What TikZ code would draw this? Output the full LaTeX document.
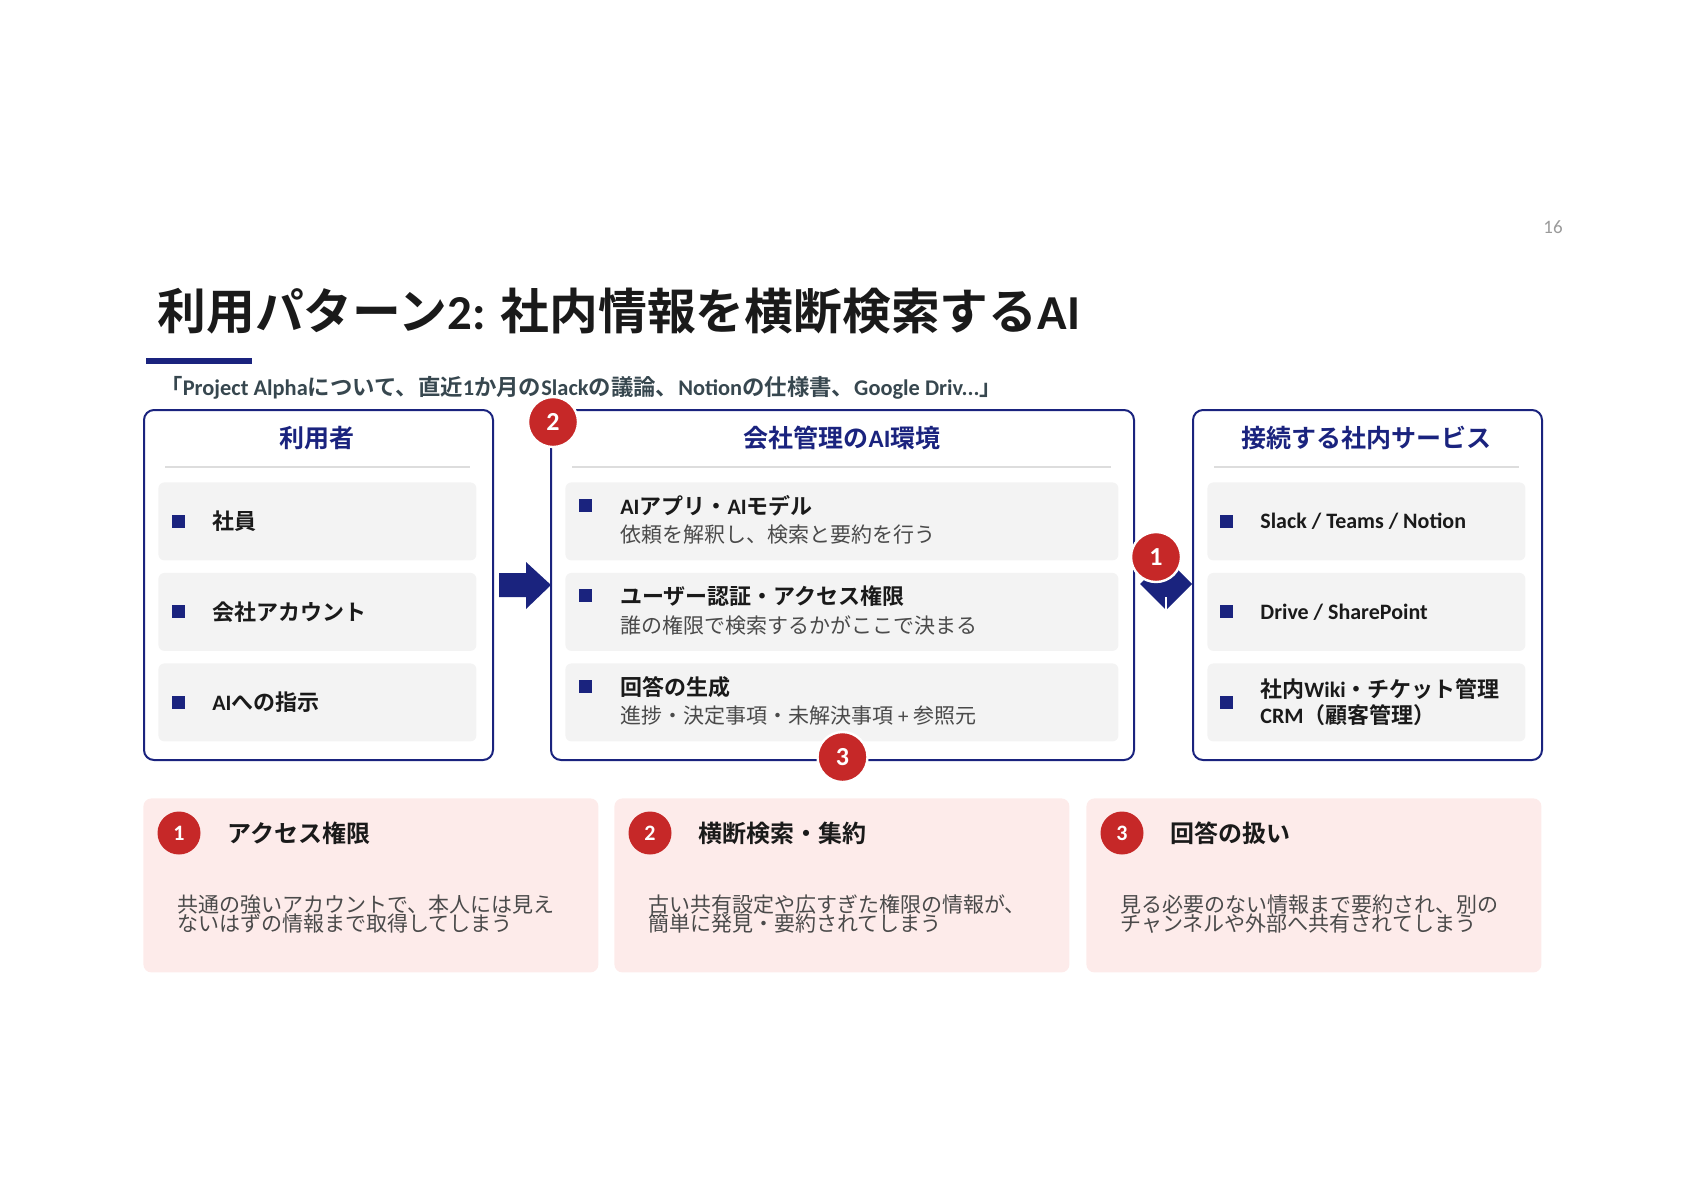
\documentclass[tikz,border=0pt]{standalone}
\usepackage{fontspec}
\usetikzlibrary{calc}
\setmainfont{Carlito}
\newfontfamily\latinfont{Carlito}
\newfontfamily\jpfont{Noto Sans CJK JP}[BoldFont={Noto Sans CJK JP Bold}]

% Japanese characters switch to the CJK font by themselves
\XeTeXinterchartokenstate=1
\newXeTeXintercharclass\jpclass
\count255="3000
\loop \XeTeXcharclass\count255=\jpclass \advance\count255 by 1 \ifnum\count255<"3100 \repeat
\count255="4E00
\loop \XeTeXcharclass\count255=\jpclass \advance\count255 by 1 \ifnum\count255<"A000 \repeat
\count255="FF00
\loop \XeTeXcharclass\count255=\jpclass \advance\count255 by 1 \ifnum\count255<"FFF0 \repeat
\XeTeXinterchartoks 0 \jpclass = {\jpfont}
\XeTeXinterchartoks 4095 \jpclass = {\jpfont}
\XeTeXinterchartoks \jpclass 0 = {\latinfont}
\XeTeXinterchartoks \jpclass 4095 = {\latinfont}

\definecolor{navy}{HTML}{1A237E}
\definecolor{badgered}{HTML}{C62828}
\definecolor{itemgray}{HTML}{F3F3F3}
\definecolor{cardpink}{HTML}{FDEBEA}
\definecolor{inkblack}{HTML}{1A1A1A}
\definecolor{subgray}{HTML}{4A4A4A}
\definecolor{sepgray}{HTML}{DDDDDD}
\definecolor{quoteslate}{HTML}{37474F}
\definecolor{pagegray}{HTML}{9A9A9A}

\tikzset{
  panel/.style={draw=navy, line width=1pt, rounded corners=5pt, anchor=north west,
    minimum height=175pt, inner sep=0pt},
  panelhead/.style={font=\bfseries\fontsize{12.5}{14}\selectfont, text=navy},
  sepline/.style={draw=sepgray, line width=0.6pt},
  itembox/.style={fill=itemgray, rounded corners=3pt, anchor=north west,
    minimum height=39pt, inner sep=0pt},
  bulletsq/.style={fill=navy, minimum size=6.5pt, inner sep=0pt},
  itemtext/.style={anchor=west, inner sep=0pt, align=left, text=inkblack,
    font=\bfseries\fontsize{11}{13}\selectfont},
  subtext/.style={anchor=west, inner sep=0pt, text=subgray,
    font=\fontsize{10.5}{12}\selectfont},
  badge/.style={circle, fill=badgered, draw=white, line width=1.2pt, text=white,
    font=\bfseries\fontsize{13}{13}\selectfont, minimum size=25pt, inner sep=0pt},
  smallbadge/.style={badge, draw=none, minimum size=21.5pt,
    font=\bfseries\fontsize{11}{11}\selectfont},
  cardbox/.style={fill=cardpink, rounded corners=4pt, anchor=north west,
    minimum width=227.5pt, minimum height=87pt, inner sep=0pt},
  cardhead/.style={anchor=west, inner sep=0pt, text=inkblack,
    font=\bfseries\fontsize{12}{14}\selectfont},
  cardtext/.style={anchor=west, inner sep=0pt, align=left, text=subgray,
    font=\fontsize{10.5}{9.8}\selectfont},
}

\begin{document}
\begin{tikzpicture}[x=0.5pt, y=-0.5pt]
    \useasboundingbox (0,0) rectangle (1684,1190);

    % heading
    \node[font=\fontsize{9.5}{10}\selectfont, text=pagegray] (pageno) at (1553,227) {16};
    \node[anchor=west, inner sep=0pt, text=inkblack, font=\bfseries\fontsize{24.4}{26}\selectfont]
        (title) at (157,311) {利用パターン2: 社内情報を横断検索するAI};
    \fill[navy] (146,358) rectangle (252,364);
    \node[anchor=west, inner sep=0pt, text=quoteslate, font=\bfseries\fontsize{11.2}{12}\selectfont]
        (quote) at (160,388) {「Project Alphaについて、直近1か月のSlackの議論、Notionの仕様書、Google Driv...」};

    % three panels
    \node[panel, minimum width=174.5pt] (usr) at (143,409) {};
    \node[panel, minimum width=291.5pt] (env) at (550,409) {};
    \node[panel, minimum width=174.5pt] (svc) at (1192,409) {};
    \node[panelhead] (usrhead) at (317,438) {利用者};
    \node[panelhead] (envhead) at (842,438) {会社管理のAI環境};
    \node[panelhead] (svchead) at (1366,438) {接続する社内サービス};
    \draw[sepline] (165,467) -- (470,467);
    \draw[sepline] (572,467) -- (1111,467);
    \draw[sepline] (1214,467) -- (1519,467);

    % items
    \foreach \txt [count=\i] in {社員, 会社アカウント, AIへの指示} {
        \node[itembox, minimum width=159pt] (usr\i) at (158,391.5+90.5*\i) {};
        \node[bulletsq] at ($(usr\i.west)+(20,0)$) {};
        \node[itemtext] at ($(usr\i.west)+(54,0)$) {\txt};
    }
    \foreach \head/\sub [count=\i] in {AIアプリ・AIモデル/依頼を解釈し、検索と要約を行う,
        ユーザー認証・アクセス権限/誰の権限で検索するかがここで決まる,
        回答の生成/進捗・決定事項・未解決事項 + 参照元} {
        \node[itembox, minimum width=276.5pt] (env\i) at (565,391.5+90.5*\i) {};
        \node[bulletsq] at ($(env\i.north west)+(20,23)$) {};
        \node[itemtext] at ($(env\i.north west)+(55,24)$) {\head};
        \node[subtext] at ($(env\i.north west)+(55,53)$) {\sub};
    }
    \foreach \txt [count=\i] in {Slack / Teams / Notion, Drive / SharePoint,
        {社内Wiki・チケット管理\\CRM（顧客管理）}} {
        \node[itembox, minimum width=159pt] (svc\i) at (1207,391.5+90.5*\i) {};
        \node[bulletsq] at ($(svc\i.west)+(19,0)$) {};
        \node[itemtext] at ($(svc\i.west)+(53,0)$) {\txt};
    }

    % arrows between panels
    \fill[navy] ($(usr.east)+(5,-12)$) -- ++(27,0) -- ++(0,-11) -- ++(25,23)
        -- ++(-25,24) -- ++(0,-12) -- ++(-27,0) -- cycle;
    \fill[navy] ($(env.east)+(5,-1)$) -- ++(26,-26) -- ++(26,26) -- ++(-26,26) -- cycle;
    \draw[white, line width=1pt] ($(env.east)+(31,12)$) -- ++(0,13);

    % numbered badges
    \node[badge] (b2) at (553,422) {2};
    \node[badge] (b1) at (1156,557) {1};
    \node[badge] (b3) at ($(env.south)+(0,-4)$) {3};

    % risk cards
    \foreach \x/\n/\head/\body in {143/1/アクセス権限/{共通の強いアカウントで、本人には見え\\ないはずの情報まで取得してしまう},
        614/2/横断検索・集約/{古い共有設定や広すぎた権限の情報が、\\簡単に発見・要約されてしまう},
        1086/3/回答の扱い/{見る必要のない情報まで要約され、別の\\チャンネルや外部へ共有されてしまう}} {
        \node[cardbox] (card\n) at (\x,798) {};
        \node[smallbadge] (cardno\n) at ($(card\n.north west)+(36,35)$) {\n};
        \node[cardhead] at ($(card\n.north west)+(84,35)$) {\head};
        \node[cardtext] at ($(card\n.north west)+(34,116)$) {\body};
    }
\end{tikzpicture}
\end{document}
